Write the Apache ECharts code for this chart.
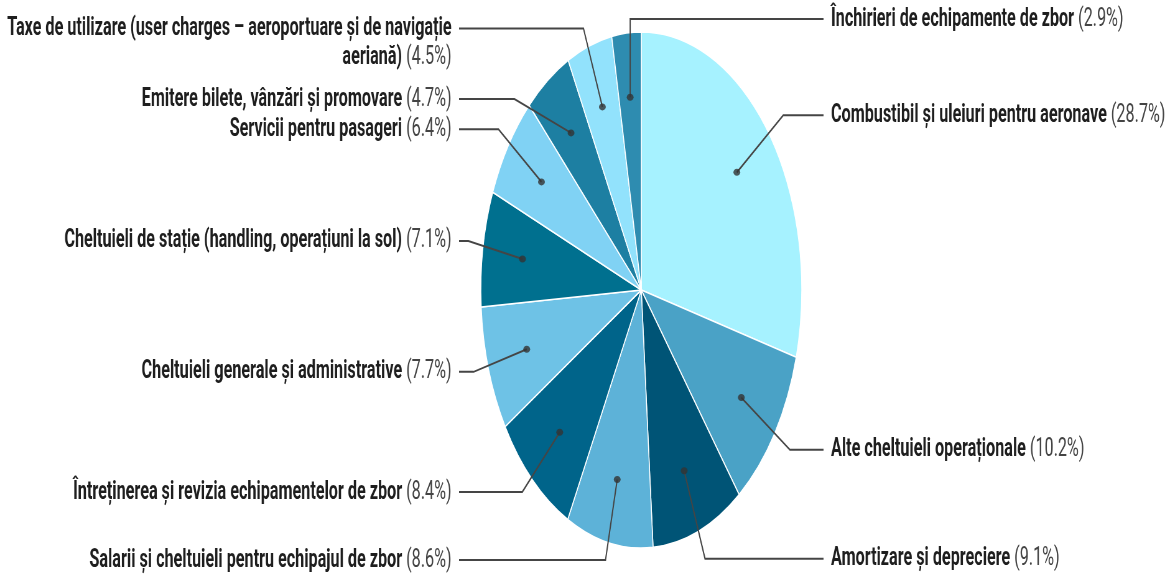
<!DOCTYPE html>
<html>
<head>
<meta charset="utf-8">
<script src="https://cdn.jsdelivr.net/npm/echarts@6/dist/echarts.min.js"></script>
<style>
html, body { margin: 0; padding: 0; background: #fff; overflow: hidden; }
#wrap { width: 1173px; height: 575px; overflow: hidden; }
/* the reference pie is squeezed sideways, so the chart is drawn wide and scaled down in x */
#chart { width: 1886px; height: 575px; transform: scaleX(0.622); transform-origin: 0 0; }
</style>
</head>
<body>
<div id="wrap"><div id="chart"></div></div>
<script>
// slices, clockwise from 12 o'clock
const categories = [
  'Combustibil și uleiuri pentru aeronave',
  'Alte cheltuieli operaționale',
  'Amortizare și depreciere',
  'Salarii și cheltuieli pentru echipajul de zbor',
  'Întreținerea și revizia echipamentelor de zbor',
  'Cheltuieli generale și administrative',
  'Cheltuieli de stație (handling, operațiuni la sol)',
  'Servicii pentru pasageri',
  'Emitere bilete, vânzări și promovare',
  'Taxe de utilizare (user charges – aeroportuare și de navigație aeriană)',
  'Închirieri de echipamente de zbor'
];
const shares = [28.7, 10.2, 9.1, 8.6, 8.4, 7.7, 7.1, 6.4, 4.7, 4.5, 2.9];
const colors = [
  '#a6f2ff', '#4aa2c6', '#005476', '#5db2d8', '#00648a', '#6ec2e6',
  '#00708f', '#80d2f4', '#1d7fa2', '#92e2fc', '#2e8cb0'
];

const total = shares.reduce((a, b) => a + b, 0);
const starts = [];
let acc = 0;
shares.forEach(v => { starts.push(acc); acc += v; });
const dotData = shares.map((v, i) => [0.75, starts[i] + v / 2]);
const pieData = categories.map((name, i) => ({ name: name, value: shares[i] }));

const CX = 1031, CY = 290, R = 258;
const LINE_END = 293;   // horizontal reach of the label lines from the centre
const TOP_Y = 19;
const LH = 29;

// wrap long names at a word boundary
function wrap(s, max) {
  if (s.length <= max) return s;
  const cut = s.lastIndexOf(' ', max);
  return s.slice(0, cut) + '\n' + s.slice(cut + 1);
}

const mychart = echarts.init(document.getElementById('chart'));
mychart.setOption({
  animation: false,
  color: colors,
  polar: { center: [CX, CY], radius: R },
  angleAxis: { type: 'value', min: 0, max: total, startAngle: 90, clockwise: true, show: false },
  radiusAxis: { type: 'value', min: 0, max: 1, show: false },
  series: [
    {
      // the coloured pie
      type: 'pie',
      center: [CX, CY],
      radius: R,
      startAngle: 90,
      clockwise: true,
      silent: true,
      itemStyle: { borderColor: '#fff', borderWidth: 1.5 },
      label: { show: false },
      labelLine: { show: false },
      data: pieData
    },
    {
      // invisible inner pie that only carries the labels, so lines start at the dots
      type: 'pie',
      center: [CX, CY],
      radius: R * 0.75,
      startAngle: 90,
      clockwise: true,
      silent: true,
      z: 3,
      minShowLabelAngle: 0,
      itemStyle: { color: 'rgba(0,0,0,0)' },
      label: {
        show: true,
        position: 'outside',
        formatter: p => '{n|' + wrap(p.name, 62) + ' }{p|(' + p.value + '%)}',
        rich: {
          n: { fontFamily: 'Roboto', fontWeight: 'bold', fontSize: 26, color: '#1e1e1e', lineHeight: LH },
          p: { fontFamily: 'Roboto', fontSize: 26, color: '#444', lineHeight: LH }
        }
      },
      labelLine: {
        show: true,
        length: 94,
        length2: 20,
        lineStyle: { color: '#454545', width: 2 }
      },
      labelLayout: function (params) {
        const pts = params.labelLinePoints;
        if (!pts) return {};
        const i = params.dataIndex;
        const frac = (starts[i] + shares[i] / 2) / total;
        const right = frac < 0.5 || frac > 0.98;
        const p0 = pts[0];
        let p1 = pts[1].slice();
        if (right && frac > 0.5) p1 = [p0[0], TOP_Y];
        if (p1[1] < TOP_Y) p1[1] = TOP_Y;
        const y = p1[1];
        const endX = right ? CX + LINE_END : CX - LINE_END;
        const multi = params.labelRect.height > LH * 1.5;
        return {
          x: endX + (right ? 12 : -12),
          y: multi ? y - LH / 2 : y,
          align: right ? 'left' : 'right',
          verticalAlign: multi ? 'top' : 'middle',
          labelLinePoints: [p0, p1, [endX, y]]
        };
      },
      data: pieData
    },
    {
      // dots where the label lines start
      type: 'scatter',
      coordinateSystem: 'polar',
      silent: true,
      z: 5,
      symbolSize: [11, 7],
      itemStyle: { color: '#333' },
      data: dotData
    }
  ]
});
</script>
</body>
</html>
